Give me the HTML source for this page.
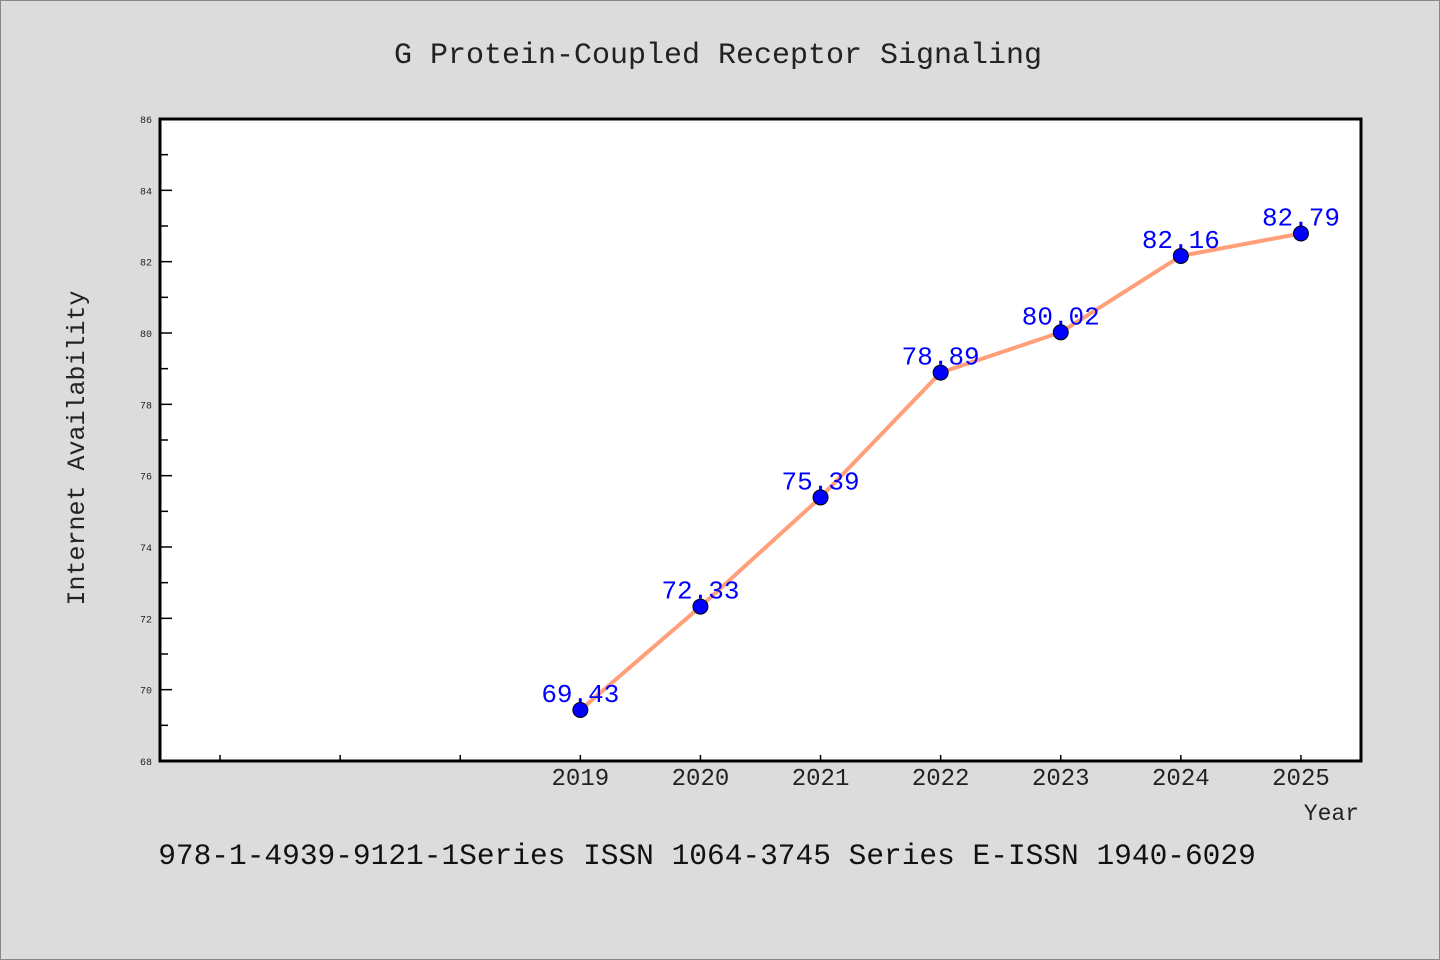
<!DOCTYPE html>
<html><head><meta charset="utf-8"><style>
html,body{margin:0;padding:0;background:#dcdcdc}
svg{display:block}
text{font-family:"Liberation Mono","DejaVu Sans Mono",monospace}
</style></head><body>
<svg id="chart" width="1440" height="960" xmlns="http://www.w3.org/2000/svg">
<rect x="0.5" y="0.5" width="1439" height="959" fill="#dcdcdc" stroke="#888"/>
<text x="718" y="63" font-size="30" text-anchor="middle" fill="#222">G Protein-Coupled Receptor Signaling</text>
<rect x="160" y="119" width="1201" height="642" fill="#fff"/>
<g id="yticks"></g><g id="xticks"></g>
<g id="series"></g>
<rect x="160" y="119" width="1201" height="642" fill="none" stroke="#000" stroke-width="3"/>
<text transform="translate(84,448) rotate(-90)" font-size="25" text-anchor="middle" fill="#222">Internet Availability</text>
<text x="1359" y="820" font-size="23" text-anchor="end" fill="#222">Year</text>
<text x="707" y="864" font-size="29.5" text-anchor="middle" fill="#111">978-1-4939-9121-1Series ISSN 1064-3745 Series E-ISSN 1940-6029</text>
</svg>
<script>
const years=[2019,2020,2021,2022,2023,2024,2025];
const values=[69.43,72.33,75.39,78.89,80.02,82.16,82.79];
const labels=["69.43","72.33","75.39","78.89","80.02","82.16","82.79"];
const yTicks=[68,70,72,74,76,78,80,82,84,86];
const xTicks=[2016,2017,2018,2019,2020,2021,2022,2023,2024,2025];
const NS="http://www.w3.org/2000/svg";
const L=160,R=1361,T=119,B=761,xMin=2015.5,xMax=2025.5,yMin=68,yMax=86;
const xs=v=>L+(v-xMin)/(xMax-xMin)*(R-L);
const ys=v=>B-(v-yMin)/(yMax-yMin)*(B-T);
function mk(tag,attrs,parent){const e=document.createElementNS(NS,tag);for(const k in attrs)e.setAttribute(k,attrs[k]);parent.appendChild(e);return e;}
const yg=document.getElementById('yticks');
yTicks.forEach((t,i)=>{
  const y=ys(t);
  const l=mk('line',{x1:L,x2:L+12,y1:y,y2:y,stroke:'#000','stroke-width':1.5},yg);
  
  
  const tx=mk('text',{x:152,y:y+4,'font-size':10,'text-anchor':'end',fill:'#222'},yg);
  tx.textContent=t;
  
  
  if(i<yTicks.length-1){const ym=ys(t+1);
    const m=mk('line',{x1:L,x2:L+8,y1:ym,y2:ym,stroke:'#000','stroke-width':1.5},yg);
    
    }
});
const xg=document.getElementById('xticks');
xTicks.forEach(t=>{
  const x=xs(t);
  const l=mk('line',{x1:x,x2:x,y1:B,y2:B-6,stroke:'#000','stroke-width':1.5},xg);
  
  
  if(years.includes(t)){
    const tx=mk('text',{x:x,y:B+24,'font-size':24,'text-anchor':'middle',fill:'#222'},xg);
    tx.textContent=t;
    
    }
});
const sg=document.getElementById('series');
const pts=years.map((y,i)=>xs(y)+','+ys(values[i])).join(' ');
const pl=mk('polyline',{points:pts,fill:'none',stroke:'#ffa07a','stroke-width':4,'stroke-linejoin':'round'},sg);


years.forEach((y,i)=>{
  const c=mk('circle',{cx:xs(y),cy:ys(values[i]),r:7.5,fill:'#0000ff',stroke:'#000','stroke-width':1},sg);
  
  
});
years.forEach((y,i)=>{
  const t=mk('text',{x:xs(y),y:ys(values[i])-8,'font-size':26,'text-anchor':'middle',fill:'#0000ff'},sg);
  t.textContent=labels[i];
  
  
});
</script>
</body></html>
